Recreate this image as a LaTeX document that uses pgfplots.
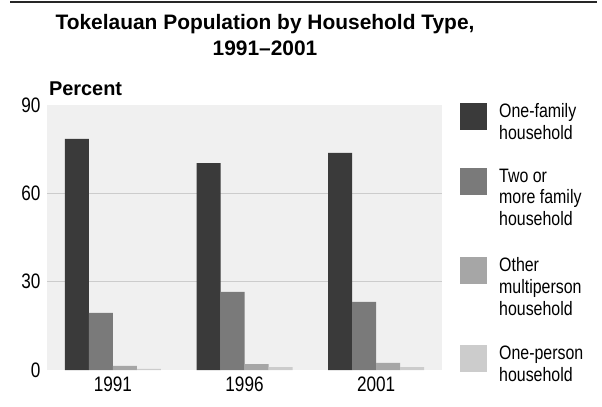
\documentclass[border=0pt]{standalone}
\usepackage{fontspec}
\setmainfont{Liberation Sans}
\newfontfamily\narrowfont[FakeStretch=0.82]{Liberation Sans}
\usepackage{pgfplots}
\pgfplotsset{compat=1.18}
\definecolor{cA}{HTML}{3A3A3A}
\definecolor{cB}{HTML}{7A7A7A}
\definecolor{cC}{HTML}{A6A6A6}
\definecolor{cD}{HTML}{CCCCCC}
\definecolor{bg}{HTML}{F0F0F0}
\definecolor{grid}{HTML}{CCCCCC}
\begin{document}
\begin{tikzpicture}[x=1bp,y=1bp]
\path[use as bounding box] (0,0) rectangle (602,406);
\fill[black!85] (10,403) rectangle (597,405);
\node[font=\bfseries\fontsize{21}{27}\selectfont,align=center] at (265,371) {Tokelauan Population by Household Type,\\1991--2001};
\node[font=\bfseries\fontsize{20}{24}\selectfont,anchor=west] at (45.5,317.5) {Percent};
\begin{axis}[
  at={(47bp,36bp)}, anchor=south west,
  scale only axis, width=395bp, height=265bp,
  xmin=-0.5, xmax=2.5, ymin=0, ymax=90,
  axis background/.style={fill=bg},
  axis line style={draw=none},
  ytick={0,30,60,90},
  extra y ticks={30,60}, extra y tick labels={},
  extra y tick style={ymajorgrids=true, grid style={draw=grid, line width=0.8bp}},
  xtick={0,1,2}, xticklabels={1991,1996,2001},
  tick style={draw=none},
  ticklabel style={font=\narrowfont\fontsize{21}{24}\selectfont},
  /pgf/number format/assume math mode=true,
  yticklabel style={xshift=-3bp},
  xticklabel style={yshift=1bp},
  ybar, bar width=24bp,
  every axis plot/.append style={draw=none},
]
\addplot[fill=cA, bar shift=-36bp] coordinates {(0,78.5) (1,70.3) (2,73.7)};
\addplot[fill=cB, bar shift=-12bp] coordinates {(0,19.4) (1,26.5) (2,23.1)};
\addplot[fill=cC, bar shift=12bp] coordinates {(0,1.4) (1,2.0) (2,2.4)};
\addplot[fill=cD, bar shift=36bp] coordinates {(0,0.4) (1,1.0) (2,1.0)};
\end{axis}
\begin{scope}[every node/.style={font=\narrowfont\fontsize{19.5}{22}\selectfont,anchor=north west,align=left,inner sep=0pt}]
\fill[cA] (460,303.5) rectangle (487,276.5);
\node at (499,303) {One-family\\household};
\fill[cB] (460,238) rectangle (487,211);
\node at (499,237.5) {Two or\\more family\\household};
\fill[cC] (460,149.5) rectangle (487,122.5);
\node at (499,149) {Other\\multiperson\\household};
\fill[cD] (460,61) rectangle (487,34);
\node at (499,60.5) {One-person\\household};
\end{scope}
\end{tikzpicture}
\end{document}
